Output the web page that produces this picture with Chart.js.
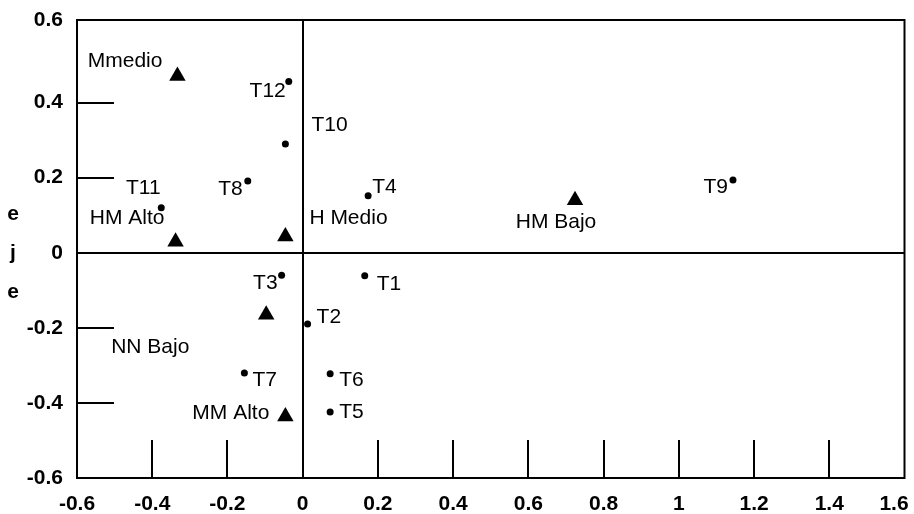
<!DOCTYPE html>
<html>
<head>
<meta charset="utf-8">
<script src="https://cdn.jsdelivr.net/npm/chart.js@4.4.1/dist/chart.umd.min.js"></script>
<style>
  html, body { margin: 0; padding: 0; background: #ffffff; }
  canvas { display: block; }
</style>
</head>
<body>
<canvas id="c" width="914" height="514"></canvas>
<script>
// ---- Data ----
const circleNames = ['T1', 'T2', 'T3', 'T4', 'T5', 'T6', 'T7', 'T8', 'T9', 'T10', 'T11', 'T12'];
const circleX = [0.165, 0.013, -0.056, 0.174, 0.073, 0.073, -0.155, -0.146, 1.144, -0.046, -0.376, -0.037];
const circleY = [-0.061, -0.190, -0.060, 0.152, -0.424, -0.322, -0.320, 0.191, 0.194, 0.290, 0.120, 0.456];

const triangleNames = ['Mmedio', 'HM Alto', 'H Medio', 'HM Bajo', 'NN Bajo', 'MM Alto'];
const triangleX = [-0.333, -0.338, -0.046, 0.724, -0.097, -0.046];
const triangleY = [0.471, 0.029, 0.043, 0.140, -0.165, -0.436];

const xTickValues = [-0.6, -0.4, -0.2, 0, 0.2, 0.4, 0.6, 0.8, 1, 1.2, 1.4, 1.6];
const xTickLabels = ['-0.6', '-0.4', '-0.2', '0', '0.2', '0.4', '0.6', '0.8', '1', '1.2', '1.4', '1.6'];
const yTickValues = [-0.6, -0.4, -0.2, 0, 0.2, 0.4, 0.62];
const yTickLabels = ['-0.6', '-0.4', '-0.2', '0', '0.2', '0.4', '0.6'];
const yAxisTitle = 'eje';

// ---- Label placement (pixel offsets from the marker, alignment) ----
const circleLabelPos = [
  [12, 9, 'left'], [9, -7, 'left'], [-4, 8, 'right'], [4, -8, 'left'],
  [9, 0, 'left'], [9, 7, 'left'], [8, 7, 'left'], [-5, 8, 'right'],
  [-5, 7, 'right'], [26, -19, 'left'], [-18, -20, 'center'], [-3, 10, 'right']
];
const triangleLabelPos = [
  [-15, -15, 'right'], [-11, -24, 'right'], [24, -18, 'left'],
  [-19, 22, 'center'], [-155, 33, 'left'], [-16, -3, 'right']
];

const FONT = "'Liberation Sans', Arial, Helvetica, sans-serif";

const toPoints = (xs, ys) => xs.map((x, i) => ({ x: x, y: ys[i] }));

const framePlugin = {
  id: 'frameAndMarks',
  beforeDatasetsDraw(chart) {
    const { ctx, chartArea: a, scales } = chart;
    ctx.save();
    ctx.strokeStyle = '#000';
    ctx.lineWidth = 2;
    // short inner tick marks on the bottom axis
    xTickValues.forEach((v, i) => {
      if (i === 0 || i === xTickValues.length - 1 || v === 0) return;
      const px = Math.round(scales.x.getPixelForValue(v));
      ctx.beginPath();
      ctx.moveTo(px, a.bottom);
      ctx.lineTo(px, a.bottom - 38);
      ctx.stroke();
    });
    // short inner tick marks on the left axis
    yTickValues.forEach((v, i) => {
      if (i === 0 || i === yTickValues.length - 1 || v === 0) return;
      const py = Math.round(scales.y.getPixelForValue(v));
      ctx.beginPath();
      ctx.moveTo(a.left, py);
      ctx.lineTo(a.left + 37, py);
      ctx.stroke();
    });
    ctx.strokeRect(a.left, a.top, a.right - a.left, a.bottom - a.top);
    // vertical axis title, one letter per line
    ctx.fillStyle = '#000';
    ctx.font = 'bold 21px ' + FONT;
    ctx.textAlign = 'center';
    ctx.textBaseline = 'middle';
    const letters = yAxisTitle.split('');
    const cy = scales.y.getPixelForValue(0);
    letters.forEach((ch, i) => {
      ctx.fillText(ch, 13, cy + (i - (letters.length - 1) / 2) * 39);
    });
    ctx.restore();
  },
  afterDatasetsDraw(chart) {
    const { ctx } = chart;
    ctx.save();
    ctx.fillStyle = '#000';
    ctx.font = '21px ' + FONT;
    ctx.textBaseline = 'middle';
    chart.data.datasets.forEach((ds, di) => {
      const meta = chart.getDatasetMeta(di);
      meta.data.forEach((el, i) => {
        const p = ds.labelPos[i];
        ctx.textAlign = p[2];
        ctx.fillText(ds.names[i], el.x + p[0], el.y + p[1]);
      });
    });
    ctx.restore();
  }
};

new Chart(document.getElementById('c'), {
  type: 'scatter',
  data: {
    datasets: [
      {
        label: 'T',
        data: toPoints(circleX, circleY),
        names: circleNames,
        labelPos: circleLabelPos,
        pointStyle: 'circle',
        pointRadius: 3.5,
        backgroundColor: '#000',
        borderColor: '#000',
        borderWidth: 0
      },
      {
        label: 'Grupos',
        data: toPoints(triangleX, triangleY),
        names: triangleNames,
        labelPos: triangleLabelPos,
        pointStyle: 'triangle',
        pointRadius: 9.5,
        backgroundColor: '#000',
        borderColor: '#000',
        borderWidth: 0
      }
    ]
  },
  options: {
    responsive: false,
    animation: false,
    events: [],
    layout: { padding: { top: 20, right: 7, left: 0, bottom: 0 } },
    plugins: { legend: { display: false }, tooltip: { enabled: false } },
    scales: {
      x: {
        type: 'linear',
        min: -0.6,
        max: 1.6,
        afterBuildTicks: s => { s.ticks = xTickValues.map(v => ({ value: v })); },
        afterFit: s => { s.height = 36; s.paddingLeft = 0; s.paddingRight = 0; },
        ticks: {
          autoSkip: false,
          maxRotation: 0,
          padding: 14,
          color: '#000',
          font: { family: FONT, size: 21, weight: 'bold' },
          callback: (v, i) => (i === xTickLabels.length - 1 ? xTickLabels[i] + '\u2002\u2002' : xTickLabels[i])
        },
        grid: {
          drawTicks: false,
          lineWidth: 2,
          color: c => (c.tick && c.tick.value === 0 ? '#000' : 'rgba(0,0,0,0)')
        },
        border: { display: false }
      },
      y: {
        type: 'linear',
        min: -0.6,
        max: 0.62,
        afterBuildTicks: s => { s.ticks = yTickValues.map(v => ({ value: v })); },
        afterFit: s => { s.width = 77; s.paddingTop = 0; s.paddingBottom = 0; },
        ticks: {
          autoSkip: false,
          padding: 14,
          color: '#000',
          font: { family: FONT, size: 21, weight: 'bold' },
          callback: (v, i) => yTickLabels[i]
        },
        grid: {
          drawTicks: false,
          lineWidth: 2,
          color: c => (c.tick && c.tick.value === 0 ? '#000' : 'rgba(0,0,0,0)')
        },
        border: { display: false }
      }
    }
  },
  plugins: [framePlugin]
});
</script>
</body>
</html>
